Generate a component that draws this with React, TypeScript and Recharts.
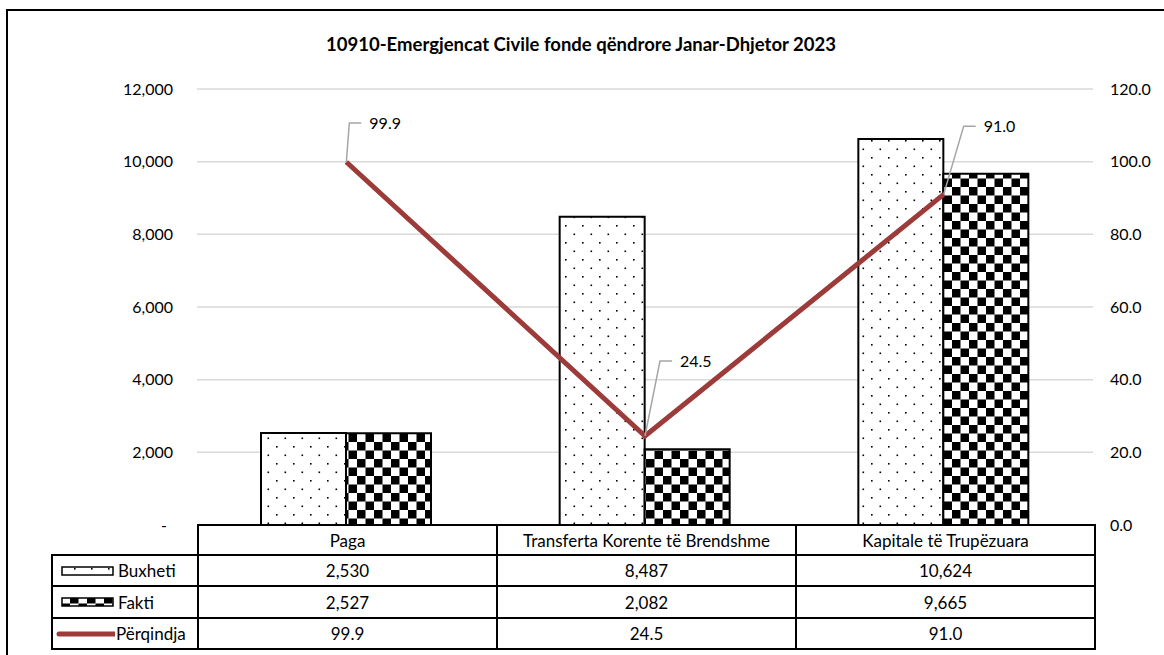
import React from "react";
import {
  ComposedChart,
  Bar,
  Line,
  XAxis,
  YAxis,
  CartesianGrid,
} from "recharts";

const categories = ["Paga", "Transferta Korente të Brendshme", "Kapitale të Trupëzuara"];
const buxheti = [2530, 8487, 10624];
const fakti = [2527, 2082, 9665];
const perqindja = [99.9, 24.5, 91.0];
const leftTicks = [0, 2000, 4000, 6000, 8000, 10000, 12000];
const rightTicks = [0, 20, 40, 60, 80, 100, 120];

// leader offsets for the percentage labels (px from point)
const labelOffsets = [
  { dx: 3, dy: -39 },
  { dx: 15, dy: -75 },
  { dx: 20, dy: -68 },
];

const FONT = "Lato, 'Open Sans', sans-serif";
const LINE_COLOR = "#9C3B39";
const TICK_SIZE = 16;

const data = categories.map((name, i) => ({
  name,
  buxheti: buxheti[i],
  fakti: fakti[i],
  pct: perqindja[i],
}));

const fmt = (v: number) => v.toLocaleString("en-US");

function Patterns({ prefix }: { prefix: string }) {
  return (
    <defs>
      <pattern id={`${prefix}-dots`} width="17" height="17" patternUnits="userSpaceOnUse">
        <rect width="17" height="17" fill="#fff" />
        <rect x="4" y="4" width="1.6" height="1.6" fill="#000" />
        <rect x="12.5" y="12.5" width="1.6" height="1.6" fill="#000" />
      </pattern>
      <pattern id={`${prefix}-check`} width="17" height="17" patternUnits="userSpaceOnUse">
        <rect width="17" height="17" fill="#fff" />
        <rect x="0" y="0" width="8.5" height="8.5" fill="#000" />
        <rect x="8.5" y="8.5" width="8.5" height="8.5" fill="#000" />
      </pattern>
    </defs>
  );
}

const LeftTick = (props: any) => {
  const { x, y, payload } = props;
  const v = payload.value;
  return (
    <text x={v === 0 ? x - 6 : x} y={y} dy="0.35em" textAnchor="end" fill="#000" fontSize={TICK_SIZE} fontFamily={FONT}>
      {v === 0 ? "-" : fmt(v)}
    </text>
  );
};

const PctLabel = (props: any) => {
  const { x, y, value, index } = props;
  const o = labelOffsets[index] || { dx: 10, dy: -40 };
  const cx = x + o.dx;
  const cy = y + o.dy;
  return (
    <g>
      <polyline
        points={`${x},${y} ${cx},${cy} ${cx + 12},${cy}`}
        fill="none"
        stroke="#a6a6a6"
        strokeWidth={1.5}
      />
      <text x={cx + 20} y={cy} dy="0.35em" fill="#000" fontSize={TICK_SIZE} fontFamily={FONT}>
        {Number(value).toFixed(1)}
      </text>
    </g>
  );
};

const cellStyle: React.CSSProperties = {
  border: "2px solid #000",
  padding: 0,
  textAlign: "center",
  fontSize: 17,
  fontFamily: FONT,
  color: "#000",
  whiteSpace: "nowrap",
};

function LegendKey({ kind }: { kind: "dots" | "check" | "line" }) {
  return (
    <svg width={62} height={14} style={{ display: "block", marginRight: kind === "line" ? 1 : 3 }}>
      <Patterns prefix="key" />
      {kind === "line" ? (
        <line x1={6} y1={7} x2={62} y2={7} stroke={LINE_COLOR} strokeWidth={5} strokeLinecap="round" />
      ) : (
        <rect x={9} y={3} width={51} height={8} fill={`url(#key-${kind})`} stroke="#000" strokeWidth={1.5} />
      )}
    </svg>
  );
}

const rows = [
  { label: "Buxheti", kind: "dots" as const, values: buxheti.map(fmt), h: 31 },
  { label: "Fakti", kind: "check" as const, values: fakti.map(fmt), h: 32 },
  { label: "Përqindja", kind: "line" as const, values: perqindja.map((v) => v.toFixed(1)), h: 31 },
];

export default function App() {
  return (
    <div style={{ position: "absolute", left: 0, top: 0, width: 1164, height: 655, background: "#fff", overflow: "hidden" }}>
      <div style={{ position: "absolute", left: 6, top: 9, width: 1200, height: 700, borderLeft: "2px solid #000", borderTop: "2px solid #000" }} />
      <div
        style={{
          position: "absolute",
          left: 0,
          top: 33,
          width: 1162,
          textAlign: "center",
          fontFamily: FONT,
          fontWeight: 700,
          fontSize: 18.5,
          color: "#000",
        }}
      >
        10910-Emergjencat Civile fonde qëndrore Janar-Dhjetor 2023
      </div>
      <div style={{ position: "absolute", left: 0, top: 0 }}>
        <ComposedChart
          width={1164}
          height={655}
          data={data}
          margin={{ top: 89, right: 11, left: 137, bottom: 130 }}
          barGap={0}
        >
          <Patterns prefix="bar" />
          <CartesianGrid yAxisId="left" vertical={false} stroke="#d9d9d9" strokeWidth={1.5} />
          <XAxis dataKey="name" hide height={0} />
          <YAxis
            yAxisId="left"
            domain={[0, 12000]}
            ticks={leftTicks}
            width={60}
            axisLine={false}
            tickLine={false}
            tickSize={0}
            tickMargin={24}
            tick={<LeftTick />}
          />
          <YAxis
            yAxisId="right"
            orientation="right"
            domain={[0, 120]}
            ticks={rightTicks}
            width={60}
            axisLine={false}
            tickLine={false}
            tickSize={0}
            tickMargin={17}
            tickFormatter={(v: number) => v.toFixed(1)}
            tick={{ fill: "#000", fontSize: TICK_SIZE, fontFamily: FONT }}
          />
          <Bar yAxisId="left" dataKey="buxheti" barSize={85} fill="url(#bar-dots)" stroke="#000" strokeWidth={2} isAnimationActive={false} />
          <Bar yAxisId="left" dataKey="fakti" barSize={85} fill="url(#bar-check)" stroke="#000" strokeWidth={2} isAnimationActive={false} />
          <Line
            yAxisId="right"
            dataKey="pct"
            stroke={LINE_COLOR}
            strokeWidth={5}
            dot={false}
            activeDot={false}
            label={<PctLabel />}
            isAnimationActive={false}
          />
        </ComposedChart>
      </div>
      <table
        style={{
          position: "absolute",
          left: 51,
          top: 524,
          borderCollapse: "collapse",
          tableLayout: "fixed",
          width: 1043,
        }}
      >
        <colgroup>
          <col style={{ width: 146 }} />
          <col style={{ width: 299 }} />
          <col style={{ width: 299 }} />
          <col style={{ width: 299 }} />
        </colgroup>
        <tbody>
          <tr style={{ height: 30 }}>
            <td style={{ ...cellStyle, border: "none" }} />
            {categories.map((c) => (
              <td key={c} style={cellStyle}>{c}</td>
            ))}
          </tr>
          {rows.map((r) => (
            <tr key={r.label} style={{ height: r.h }}>
              <td style={{ ...cellStyle, textAlign: "left" }}>
                <div style={{ display: "flex", alignItems: "center" }}>
                  <LegendKey kind={r.kind} />
                  <span>{r.label}</span>
                </div>
              </td>
              {r.values.map((v, i) => (
                <td key={i} style={cellStyle}>{v}</td>
              ))}
            </tr>
          ))}
        </tbody>
      </table>
    </div>
  );
}
